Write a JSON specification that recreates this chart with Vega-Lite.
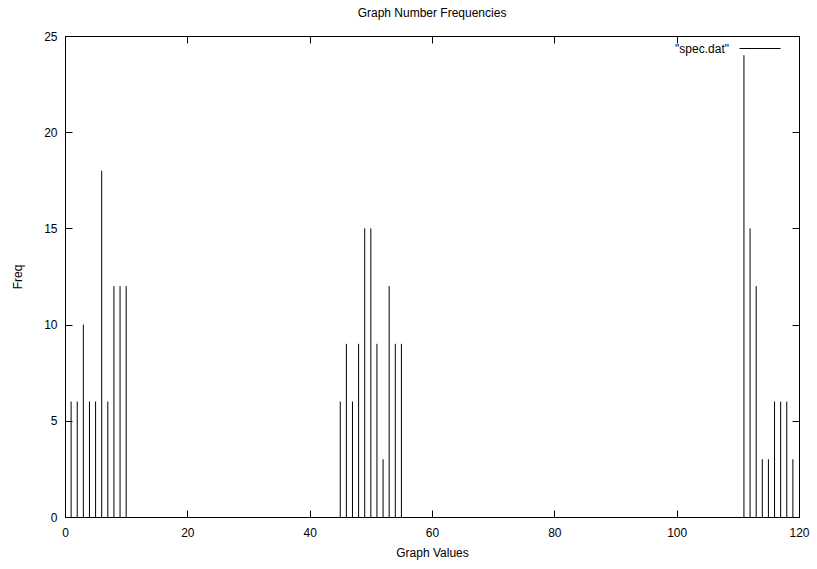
{
  "$schema": "https://vega.github.io/schema/vega-lite/v6.json",
  "width": 734,
  "height": 481,
  "autosize": "none",
  "padding": {"left": 65, "top": 36, "right": 18, "bottom": 52},
  "background": "white",
  "title": {"text": "Graph Number Frequencies", "fontSize": 12, "fontWeight": "normal", "font": "Liberation Sans", "offset": 8, "color": "black"},
  "config": {
    "view": {"stroke": "black", "strokeWidth": 1},
    "axis": {"labelFont": "Liberation Sans", "titleFont": "Liberation Sans", "labelFontSize": 12, "titleFontSize": 12, "titleFontWeight": "normal", "labelColor": "black", "titleColor": "black", "tickColor": "black", "domain": false, "grid": false, "tickSize": -7, "labelFlush": false, "labelOverlap": false}
  },
  "data": {"values": [
    {"value": 1, "freq": 6, "series": "\"spec.dat\""},
    {"value": 2, "freq": 6, "series": "\"spec.dat\""},
    {"value": 3, "freq": 10, "series": "\"spec.dat\""},
    {"value": 4, "freq": 6, "series": "\"spec.dat\""},
    {"value": 5, "freq": 6, "series": "\"spec.dat\""},
    {"value": 6, "freq": 18, "series": "\"spec.dat\""},
    {"value": 7, "freq": 6, "series": "\"spec.dat\""},
    {"value": 8, "freq": 12, "series": "\"spec.dat\""},
    {"value": 9, "freq": 12, "series": "\"spec.dat\""},
    {"value": 10, "freq": 12, "series": "\"spec.dat\""},
    {"value": 45, "freq": 6, "series": "\"spec.dat\""},
    {"value": 46, "freq": 9, "series": "\"spec.dat\""},
    {"value": 47, "freq": 6, "series": "\"spec.dat\""},
    {"value": 48, "freq": 9, "series": "\"spec.dat\""},
    {"value": 49, "freq": 15, "series": "\"spec.dat\""},
    {"value": 50, "freq": 15, "series": "\"spec.dat\""},
    {"value": 51, "freq": 9, "series": "\"spec.dat\""},
    {"value": 52, "freq": 3, "series": "\"spec.dat\""},
    {"value": 53, "freq": 12, "series": "\"spec.dat\""},
    {"value": 54, "freq": 9, "series": "\"spec.dat\""},
    {"value": 55, "freq": 9, "series": "\"spec.dat\""},
    {"value": 111, "freq": 24, "series": "\"spec.dat\""},
    {"value": 112, "freq": 15, "series": "\"spec.dat\""},
    {"value": 113, "freq": 12, "series": "\"spec.dat\""},
    {"value": 114, "freq": 3, "series": "\"spec.dat\""},
    {"value": 115, "freq": 3, "series": "\"spec.dat\""},
    {"value": 116, "freq": 6, "series": "\"spec.dat\""},
    {"value": 117, "freq": 6, "series": "\"spec.dat\""},
    {"value": 118, "freq": 6, "series": "\"spec.dat\""},
    {"value": 119, "freq": 3, "series": "\"spec.dat\""}
  ]},
  "layer": [
    {
      "mark": {"type": "rule", "strokeWidth": 1},
      "encoding": {
        "x": {"field": "value", "type": "quantitative", "scale": {"domain": [0, 120], "nice": false, "zero": false}, "axis": {"title": "Graph Values", "values": [0, 20, 40, 60, 80, 100, 120], "orient": "bottom", "labelPadding": 17, "titlePadding": 9}},
        "y": {"field": "freq", "type": "quantitative", "scale": {"domain": [0, 25], "nice": false}, "axis": {"title": "Freq", "values": [0, 5, 10, 15, 20, 25], "orient": "left", "labelPadding": 15, "titlePadding": 19}},
        "y2": {"datum": 0},
        "color": {"field": "series", "type": "nominal", "scale": {"range": ["black"]}, "legend": {"title": null, "orient": "none", "legendX": 674, "legendY": -8.5, "symbolType": "stroke", "symbolSize": 1681, "symbolStrokeWidth": 1, "labelFont": "Liberation Sans", "labelFontSize": 12, "labelColor": "black", "labelAlign": "right", "labelOffset": -52, "padding": 0}}
      }
    },
    {
      "mark": {"type": "rule", "opacity": 0},
      "encoding": {
        "x": {"field": "value", "type": "quantitative", "axis": {"title": null, "labels": false, "values": [0, 20, 40, 60, 80, 100, 120], "orient": "top"}},
        "y": {"field": "freq", "type": "quantitative", "axis": {"title": null, "labels": false, "values": [0, 5, 10, 15, 20, 25], "orient": "right"}}
      }
    }
  ],
  "resolve": {"axis": {"x": "independent", "y": "independent"}}
}
